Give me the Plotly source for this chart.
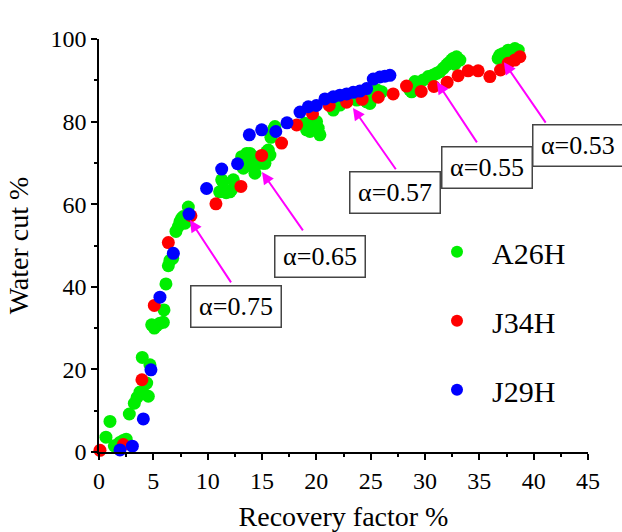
import plotly.graph_objects as go

# Well A26H
a26h_rf = [0.64, 1.01, 1.41, 1.9, 2.24, 2.5, 2.79, 3.25, 3.5, 3.77, 3.98, 4.1, 4.39, 4.54,
           4.69, 4.85, 5.09, 5.3, 5.61, 5.92, 5.98, 6.16, 6.38, 6.53, 6.78, 7.08, 7.30, 7.45,
           7.61, 7.76, 7.91, 8.22, 11.1, 11.29, 11.4, 11.7, 12.05, 12.2, 12.36, 13.13, 13.28,
           13.43, 13.59, 13.74, 13.89, 14.2, 14.35, 14.51, 14.66, 15.1, 15.27, 15.43, 15.58,
           15.73, 15.82, 16.04, 16.19, 18.95, 19.1, 19.41, 19.72, 19.72, 20.02, 20.17, 20.33,
           21.56, 22.17, 23.71, 24.47, 24.63, 24.78, 24.93, 25.24, 25.55, 26.01, 28.6, 28.77,
           29.07, 29.38, 29.84, 30.3, 30.76, 31.07, 31.37, 31.68, 31.98, 32.14, 32.44, 32.6,
           32.75, 32.9, 33.21, 36.73, 36.89, 37.2, 37.65, 38.0, 38.27, 38.58]
a26h_wc = [3.6, 7.4, 1.5, 2.3, 2.8, 3.1, 9.2, 11.8, 13.2, 14.5, 22.9, 14.2, 16.7, 13.5,
           21.1, 30.8, 30.0, 30.6, 31.2, 31.4, 34.4, 40.7, 45.1, 46.4, 46.9, 53.4, 54.6, 55.8,
           56.6, 57.0, 55.4, 59.3, 63.0, 65.9, 65.5, 62.8, 63.0, 63.5, 65.9, 71.5, 68.7,
           71.5, 72.3, 69.5, 72.3, 71.5, 67.5, 70.7, 69.9, 69.9, 69.9, 72.7, 73.1,
           71.9, 76.2, 78.0, 78.8, 79.6, 78.0, 77.6, 79.6, 78.8, 80.0, 78.4, 76.8,
           82.8, 84.0, 85.2, 85.2, 84.8, 86.4, 84.4, 86.4, 87.7, 87.2, 87.7, 87.2,
           89.7, 89.2, 90.1, 90.9, 91.3, 91.7, 92.1, 92.9, 93.7, 94.1, 94.9, 95.3,
           93.9, 95.7, 94.9, 95.3, 96.1, 96.5, 97.3, 97.0, 97.7, 97.3]

# Well J34H
j34h_rf = [0.09, 2.24, 3.95, 5.09, 6.38, 8.46, 10.76, 13.06, 14.97, 16.8, 18.19, 19.65,
           21.19, 22.79, 24.22, 25.7, 27.07, 28.3, 29.65, 30.82, 32.04, 33.05, 33.97, 34.89,
           35.97, 36.95, 37.65, 38.27, 38.73]
j34h_wc = [0.4, 1.8, 17.5, 35.5, 50.7, 57.2, 60.1, 64.3, 71.8, 74.8, 79.2, 81.9,
           83.9, 84.7, 85.4, 85.9, 86.7, 88.6, 87.3, 88.5, 89.5, 91.1, 92.3, 92.3,
           90.9, 92.5, 94.1, 94.9, 95.7]

# Well J29H
j29h_rf = [1.93, 3.07, 4.08, 4.78, 5.61, 6.84, 8.28, 9.9, 11.29, 12.75, 13.83, 14.97,
           16.27, 17.3, 18.5, 19.26, 20.0, 20.79, 21.56, 22.17, 22.79, 23.4, 24.01, 24.63,
           25.24, 25.85, 26.31, 26.77]
j29h_wc = [0.5, 1.4, 8.0, 19.9, 37.5, 48.1, 57.6, 63.8, 68.5, 69.8, 76.8, 78.0,
           77.6, 79.7, 82.3, 83.6, 83.9, 85.5, 86.0, 86.4, 86.7, 87.1, 87.4, 88.0,
           90.3, 90.8, 91.0, 91.2]

# Alpha labels: text, arrow head (rf, wc), arrow tail (rf, wc), label box left edge / centre (rf, wc)
alpha_text = ["α=0.75", "α=0.65", "α=0.57", "α=0.55", "α=0.53"]
alpha_head_rf = [8.37, 15.0, 23.37, 31.1, 37.26]
alpha_head_wc = [56.2, 67.8, 83.3, 89.6, 94.4]
alpha_tail_rf = [12.24, 18.86, 27.41, 34.87, 41.2]
alpha_tail_wc = [40.7, 53.3, 68.1, 74.6, 79.4]
alpha_box_left_rf = [8.37, 16.1, 23.0, 31.46, 39.85]
alpha_box_wc = [35.3, 47.25, 62.9, 69.0, 74.3]

FONT = "Liberation Serif, Times New Roman, serif"

fig = go.Figure()
series = [("A26H", a26h_rf, a26h_wc, "#00EE00"),
          ("J34H", j34h_rf, j34h_wc, "#FF0000"),
          ("J29H", j29h_rf, j29h_wc, "#0000FF")]
for name, xs, ys, col in series:
    fig.add_trace(go.Scatter(
        x=xs, y=ys, mode="markers", name=name, legendgroup=name,
        marker=dict(size=13, color=col, line=dict(width=0)),
        cliponaxis=False,
    ))

for i, txt in enumerate(alpha_text):
    fig.add_annotation(
        x=alpha_head_rf[i], y=alpha_head_wc[i], ax=alpha_tail_rf[i], ay=alpha_tail_wc[i],
        xref="x", yref="y", axref="x", ayref="y", text="", showarrow=True,
        arrowhead=2, arrowsize=1.2, arrowwidth=2, arrowcolor="#FF00FF",
    )
    # the last label box runs off the right edge of the page
    last = i == len(alpha_text) - 1
    fig.add_annotation(
        x=alpha_box_left_rf[i], y=alpha_box_wc[i], xref="x", yref="y",
        text=("&nbsp;" + txt) if last else txt,
        showarrow=False, font=dict(family=FONT, size=26, color="black"),
        bgcolor="white", bordercolor="#444444", borderwidth=1.5,
        width=110 if last else 87, height=38, borderpad=1,
        align="left" if last else "center",
        xanchor="left", yanchor="middle",
    )

axis_common = dict(
    showline=True, linecolor="black", linewidth=1.5, mirror=False,
    ticks="outside", ticklen=6, tickwidth=1.5, tickcolor="black",
    showgrid=False, zeroline=False,
    tickfont=dict(family=FONT, size=24, color="black"),
)

fig.update_xaxes(
    range=[0, 45], dtick=5, tick0=0,
    minor=dict(ticks="outside", ticklen=3, tickwidth=1.5, tickcolor="black", dtick=2.5),
    title=dict(text="Recovery factor %", font=dict(family=FONT, size=28, color="black"),
               standoff=20),
    **axis_common,
)
fig.update_yaxes(
    range=[0, 100], dtick=20, tick0=0,
    minor=dict(ticks="outside", ticklen=3, tickwidth=1.5, tickcolor="black", dtick=10),
    title=dict(text="Water cut %", font=dict(family=FONT, size=28, color="black"),
               standoff=14),
    **axis_common,
)

fig.update_layout(
    width=622, height=532,
    margin=dict(l=99, r=34, t=39, b=80, autoexpand=False),
    plot_bgcolor="white", paper_bgcolor="white",
    showlegend=True,
    legend=dict(
        x=(422 - 99) / 489, y=(452.3 - 226) / 413.3, xanchor="left", yanchor="top",
        font=dict(family=FONT, size=30, color="black"),
        bgcolor="rgba(0,0,0,0)", borderwidth=0,
        tracegroupgap=27, itemsizing="constant", itemwidth=60,
    ),
)

fig.write_html("out.html")
